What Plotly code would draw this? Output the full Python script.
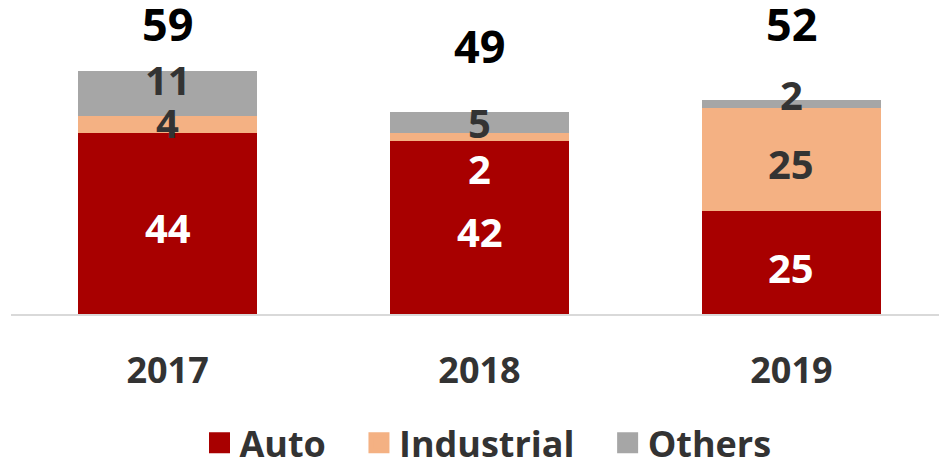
import plotly.graph_objects as go

# categories and series values
years = ["2017", "2018", "2019"]
auto = [44, 42, 25]
industrial = [4, 2, 25]
others = [11, 5, 2]
series_names = ["Auto", "Industrial", "Others"]

# colours
colors = {"Auto": "#a80000", "Industrial": "#f4b183", "Others": "#a6a6a6"}
dark = "#333333"

values = {"Auto": auto, "Industrial": industrial, "Others": others}
totals = [a + i + o for a, i, o in zip(auto, industrial, others)]

# label styling: text colour and small pixel nudges for crowded segments
label_color = {
    "Auto": ["white", "white", "white"],
    "Industrial": [dark, "white", dark],
    "Others": [dark, dark, dark],
}
label_shift = {
    "Auto": [-4, -4, -5],
    "Industrial": [2, -32, -4],
    "Others": [14, 0, 9],
}
total_shift = [47, 67, 76]

# padding after legend labels to spread the entries out
legend_pad = {"Auto": "\u00a0\u00a0\u00a0", "Industrial": "\u00a0\u00a0\u00a0", "Others": ""}

fig = go.Figure()

for name in series_names:
    fig.add_trace(go.Bar(
        x=list(range(len(years))),
        y=values[name],
        name=name,
        width=0.574,
        marker=dict(color=colors[name], line=dict(width=0)),
        showlegend=False,
        hoverinfo="skip",
    ))
    # legend-only proxy so the legend square can be larger
    fig.add_trace(go.Scatter(
        x=[None], y=[None],
        mode="markers",
        name=name + legend_pad[name],
        marker=dict(symbol="square", size=16, color=colors[name],
                    line=dict(color=colors[name], width=5)),
    ))

annotations = []
base = [0, 0, 0]
for name in series_names:
    for k in range(len(years)):
        v = values[name][k]
        annotations.append(dict(
            x=k, y=base[k] + v / 2, xref="x", yref="y",
            text=str(v), showarrow=False,
            yshift=label_shift[name][k],
            font=dict(size=40, color=label_color[name][k], weight="bold"),
        ))
        base[k] += v

for k in range(len(years)):
    annotations.append(dict(
        x=k, y=totals[k], xref="x", yref="y",
        text=str(totals[k]), showarrow=False,
        yshift=total_shift[k],
        font=dict(size=45, color="black", weight="bold"),
    ))

fig.update_layout(
    barmode="stack",
    width=939, height=463,
    margin=dict(l=11, r=0, t=0, b=149, autoexpand=False),
    paper_bgcolor="white", plot_bgcolor="white",
    font=dict(family="Open Sans", color=dark),
    annotations=annotations,
    xaxis=dict(
        range=[-0.502, 2.473],
        tickvals=list(range(len(years))), ticktext=years,
        showline=True, linecolor="#d9d9d9", linewidth=2,
        showgrid=False, zeroline=False, ticks="",
        ticklabelstandoff=24,
        tickfont=dict(size=36, color=dark, weight="bold"),
    ),
    yaxis=dict(range=[0, 76.2], visible=False),
    showlegend=True,
    legend=dict(
        orientation="h", traceorder="normal",
        x=0.514, xanchor="center",
        y=-0.41, yanchor="middle",
        font=dict(size=36, color=dark, weight="bold"),
    ),
)

fig.write_html("out.html", config={"displayModeBar": False},
               post_script="document.body.style.margin='0';")
